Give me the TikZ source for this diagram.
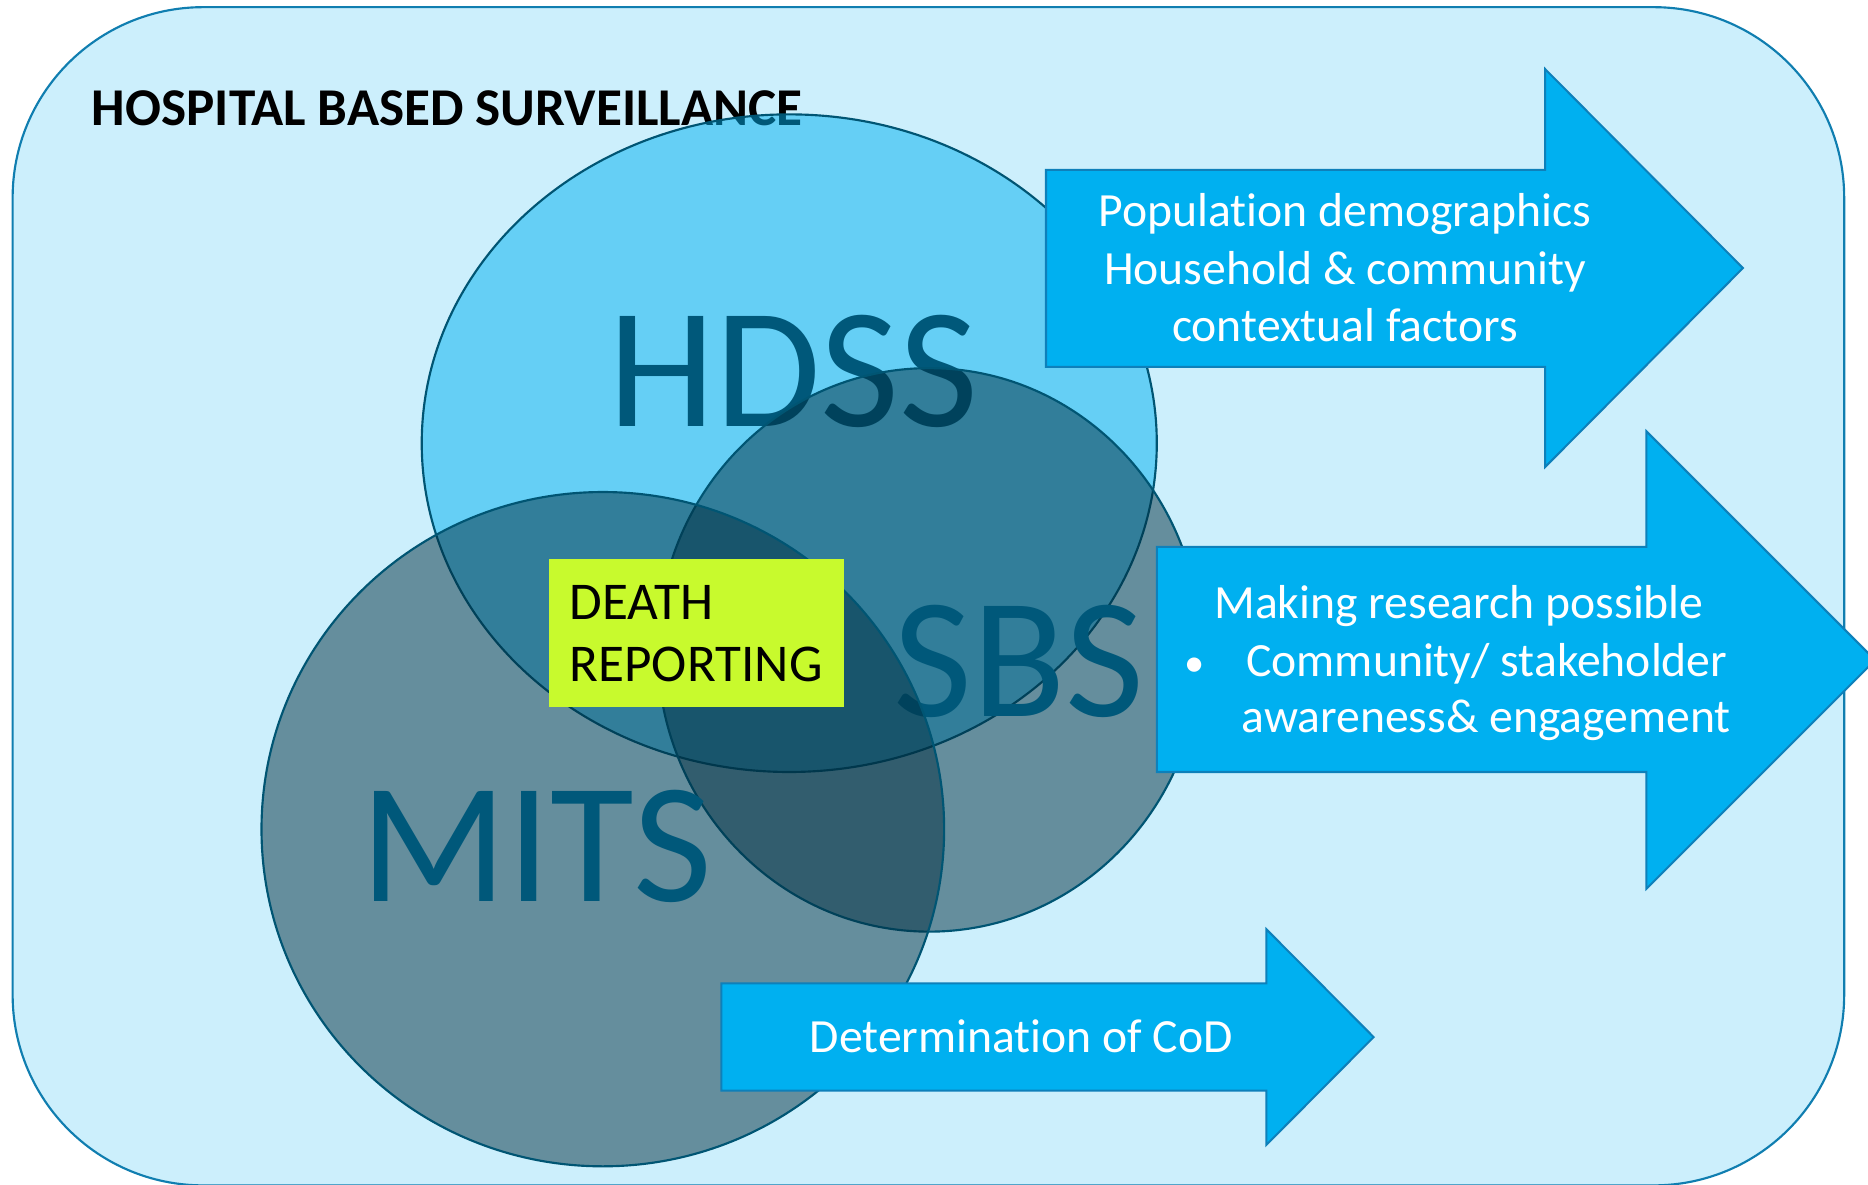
\documentclass[tikz,border=0pt]{standalone}
\usepackage{fontspec}
\setmainfont{Carlito}[Ligatures=NoCommon]
\usetikzlibrary{shapes.geometric}
\definecolor{bgfill}{RGB}{204,239,252}
\definecolor{bgline}{RGB}{16,126,176}
\definecolor{cyanA}{RGB}{0,176,240}
\definecolor{tealA}{RGB}{0,46,64}
\definecolor{vline}{RGB}{0,85,115}
\definecolor{vtext}{RGB}{0,88,122}
\definecolor{arrline}{RGB}{14,128,186}
\definecolor{limebox}{RGB}{200,250,45}
\begin{document}
\begin{tikzpicture}[x=1pt,y=-1pt,
  venn/.style={ellipse, draw=vline, line width=1.8pt, inner sep=0pt, outer sep=0pt, fill opacity=0.5},
  vennlabel/.style={anchor=base, inner sep=0pt, text=vtext, font=\fontsize{144}{172}\selectfont},
  bigarrow/.style={draw=arrline, fill=cyanA, line width=1.7pt, line join=miter},
  arrtext/.style={inner sep=0pt, text=white, font=\fontsize{40}{48}\selectfont},
  deathtext/.style={anchor=base west, inner sep=0pt, text=black, font=\fontsize{44.6}{52}\selectfont}]
\useasboundingbox (0,0) rectangle (1568,994);
\clip (0,0) rectangle (1568,994);
% outer frame
\draw[fill=bgfill, draw=bgline, line width=1.8pt, rounded corners=160pt] (10.6,6) rectangle (1548,995);
% title
\node[anchor=base west, inner sep=0pt, font=\fontsize{44.6}{53}\selectfont\bfseries] (title) at (77,105) {HOSPITAL BASED SURVEILLANCE};
% Venn ellipses
\node[venn, fill=cyanA, minimum width=617pt, minimum height=552pt] (hdss) at (662.5,372) {};
\node[vennlabel] (hdsst) at (666,358) {HDSS};
\node[venn, fill=tealA, minimum width=456pt, minimum height=473pt] (sbs) at (780,545.5) {};
\node[vennlabel] (sbst) at (855.5,601.6) {SBS};
\node[venn, fill=tealA, minimum width=573pt, minimum height=566pt] (mits) at (506,696) {};
\node[vennlabel] (mitst) at (450,757) {MITS};
% death reporting
\node[fill=limebox, minimum width=247.7pt, minimum height=124.5pt, inner sep=0pt] (death) at (584.65,531.45) {};
\node[deathtext] (death1) at (478,520.4) {DEATH};
\node[deathtext] (death2) at (478,572.2) {REPORTING};
% block arrows
\draw[bigarrow] (878,142.5) -- (1297,142.5) -- (1297,58) -- (1463,225) -- (1297,392) -- (1297,308) -- (878,308) -- cycle;
\draw[bigarrow] (971,459) -- (1382,459) -- (1382,362) -- (1574,554) -- (1382,746) -- (1382,648) -- (971,648) -- cycle;
\draw[bigarrow] (605.5,825.5) -- (1063,825.5) -- (1063,780) -- (1153,870.5) -- (1063,961) -- (1063,915.5) -- (605.5,915.5) -- cycle;
% arrow texts
\node[arrtext, anchor=base] (p1) at (1129,190.3) {Population demographics};
\node[arrtext, anchor=base] (p2) at (1129,239.2) {Household \& community};
\node[arrtext, anchor=base] (p3) at (1129,286.8) {contextual factors};
\node[arrtext, anchor=base] (r1) at (1224.7,519) {Making research possible};
\node[arrtext, anchor=base, font=\fontsize{34}{48}\selectfont] (rb) at (1003,567.9) {•};
\node[arrtext, anchor=base west] (r2) at (1046,567.9) {Community/ stakeholder};
\node[arrtext, anchor=base west] (r3) at (1042,614.9) {awareness\& engagement};
\node[arrtext, anchor=base] (c1) at (857.3,883.5) {Determination of CoD};
\end{tikzpicture}
\end{document}
